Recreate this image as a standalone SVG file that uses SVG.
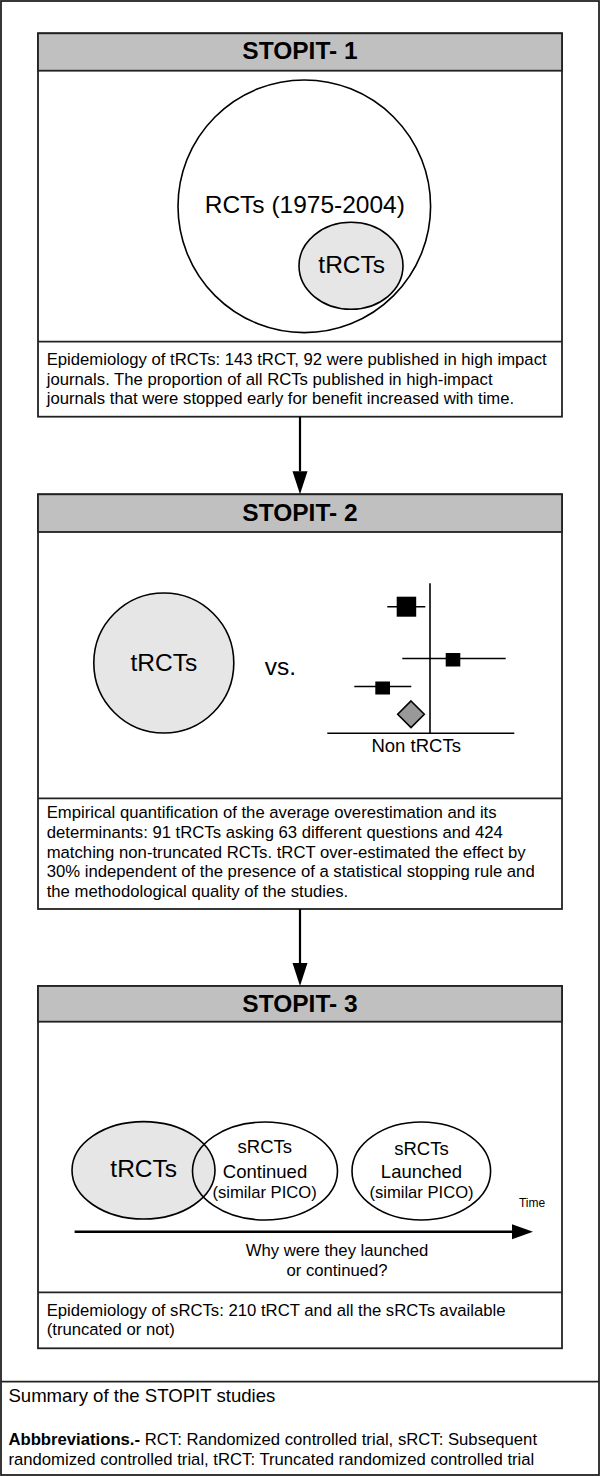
<svg xmlns="http://www.w3.org/2000/svg" width="600" height="1476" viewBox="0 0 600 1476">
<style>
text{font-family:"Liberation Sans",Arial,Helvetica,sans-serif;fill:#000}
.box{fill:#fff;stroke:#222;stroke-width:1.8}
.hdr{fill:#c0c0c0;stroke:#222;stroke-width:1.8}
.div{stroke:#222;stroke-width:1.8}
.title{font-size:24.5px;font-weight:bold;text-anchor:middle}
.big{font-size:24.5px;text-anchor:middle}
.med{font-size:18.5px;text-anchor:middle}
.body{font-size:16.7px}
.ell{fill:#fff;stroke:#000;stroke-width:1.6}
.ellg{fill:#e6e6e6;stroke:#000;stroke-width:1.6}
.ln{stroke:#000;stroke-width:1.6;fill:none}
.conn{stroke:#000;stroke-width:2.2;fill:none}
</style>
<defs>
<marker id="ah" markerUnits="userSpaceOnUse" markerWidth="24" markerHeight="16" refX="0" refY="7.5" orient="auto">
<path d="M0,0 L23,7.5 L0,15 z" fill="#000"/>
</marker>
<marker id="ah2" markerUnits="userSpaceOnUse" markerWidth="22" markerHeight="16" refX="0" refY="7.5" orient="auto">
<path d="M0,0 L21,7.5 L0,15 z" fill="#000"/>
</marker>
</defs>
<rect x="0" y="0" width="600" height="1476" fill="#fff"/>
<rect x="1" y="1" width="598" height="1474" fill="none" stroke="#222" stroke-width="1.8"/>
<line x1="1" y1="1381.7" x2="599" y2="1381.7" class="div"/>

<g id="stopit1">
<rect x="38" y="33.3" width="524" height="383.4" class="box"/>
<rect x="38" y="33.3" width="524" height="37.4" class="hdr"/>
<text x="300" y="59.3" class="title">STOPIT- 1</text>
<line x1="38" y1="341.7" x2="562" y2="341.7" class="div"/>
<g id="rcts-circle">
<circle cx="304.3" cy="206.3" r="126.3" class="ell"/>
<text x="304.8" y="213.3" class="big">RCTs (1975-2004)</text>
</g>
<g id="trcts-circle1">
<ellipse cx="351" cy="265.8" rx="52" ry="43.5" class="ellg"/>
<text x="351.7" y="273.3" class="big">tRCTs</text>
</g>
<text class="body"><tspan x="46.7" y="365">Epidemiology of tRCTs: 143 tRCT, 92 were published in high impact</tspan><tspan x="46.7" y="384.5">journals. The proportion of all RCTs published in high-impact</tspan><tspan x="46.7" y="404">journals that were stopped early for benefit increased with time.</tspan></text>
</g>

<g id="stopit2">
<rect x="38" y="494.3" width="524" height="414.7" class="box"/>
<rect x="38" y="494.3" width="524" height="37.7" class="hdr"/>
<text x="300" y="520.7" class="title">STOPIT- 2</text>
<line x1="38" y1="798.3" x2="562" y2="798.3" class="div"/>
<g id="trcts-circle2">
<circle cx="163.8" cy="663" r="70" class="ellg"/>
<text x="163.8" y="670.7" class="big">tRCTs</text>
</g>
<text x="280.5" y="675" class="big">vs.</text>
<g id="forest-plot">
<line x1="430" y1="583.3" x2="430" y2="733.3" class="ln"/>
<line x1="327.3" y1="733.3" x2="514.3" y2="733.3" class="ln"/>
<line x1="387.3" y1="606.7" x2="425.3" y2="606.7" class="ln"/>
<rect x="396.7" y="596.7" width="19.5" height="20" fill="#000"/>
<line x1="402.3" y1="658.5" x2="505.7" y2="658.5" class="ln"/>
<rect x="445.7" y="653" width="14.6" height="13.5" fill="#000"/>
<line x1="354.3" y1="686.5" x2="411.3" y2="686.5" class="ln"/>
<rect x="375.3" y="681.5" width="14.7" height="13" fill="#000"/>
<path d="M411,701 L424.3,714.3 L411,727.6 L397.7,714.3 Z" fill="#999" stroke="#000" stroke-width="1.6"/>
<text x="416.2" y="752.3" class="med">Non tRCTs</text>
</g>
<text class="body"><tspan x="46.7" y="818.3">Empirical quantification of the average overestimation and its</tspan><tspan x="46.7" y="838">determinants: 91 tRCTs asking 63 different questions and 424</tspan><tspan x="46.7" y="857.6">matching non-truncated RCTs. tRCT over-estimated the effect by</tspan><tspan x="46.7" y="877.2">30% independent of the presence of a statistical stopping rule and</tspan><tspan x="46.7" y="896.8">the methodological quality of the studies.</tspan></text>
</g>

<g id="stopit3">
<rect x="38" y="986" width="524" height="362.3" class="box"/>
<rect x="38" y="986" width="524" height="35.7" class="hdr"/>
<text x="300" y="1011.7" class="title">STOPIT- 3</text>
<line x1="38" y1="1292.3" x2="562" y2="1292.3" class="div"/>
<g id="trcts-ellipse3">
<ellipse cx="143.5" cy="1170.3" rx="71.5" ry="48.7" class="ellg"/>
<text x="143.7" y="1177.3" class="big">tRCTs</text>
</g>
<g id="srcts-continued">
<ellipse cx="265" cy="1171" rx="72.5" ry="49" fill="none" stroke="#000" stroke-width="1.6"/>
<text x="264.8" y="1153.3" class="med">sRCTs</text>
<text x="265" y="1178.3" class="med">Continued</text>
<text x="264.6" y="1198.3" font-size="16.6" text-anchor="middle">(similar PICO)</text>
</g>
<g id="srcts-launched">
<ellipse cx="421.3" cy="1171" rx="69.3" ry="49" class="ell"/>
<text x="421.5" y="1155" class="med">sRCTs</text>
<text x="421.5" y="1178.3" class="med">Launched</text>
<text x="421.5" y="1198.3" font-size="16.6" text-anchor="middle">(similar PICO)</text>
</g>
<text x="532" y="1206.7" font-size="12" text-anchor="middle">Time</text>
<text class="body" text-anchor="middle"><tspan x="337" y="1255.7">Why were they launched</tspan><tspan x="337" y="1275.7">or continued?</tspan></text>
<text class="body"><tspan x="46.7" y="1315.7">Epidemiology of sRCTs: 210 tRCT and all the sRCTs available</tspan><tspan x="46.7" y="1335">(truncated or not)</tspan></text>
</g>

<g id="connectors">
<line x1="300" y1="416.7" x2="300" y2="471.3" class="conn" marker-end="url(#ah)"/>
<line x1="300" y1="909" x2="300" y2="963" class="conn" marker-end="url(#ah)"/>
<line x1="74.6" y1="1231.7" x2="512" y2="1231.7" stroke="#000" stroke-width="2.6" marker-end="url(#ah2)"/>
</g>

<g id="caption">
<text x="8.4" y="1401.7" font-size="18.6">Summary of the STOPIT studies</text>
<text class="body"><tspan x="8.4" y="1445"><tspan font-weight="bold">Abbbreviations.-</tspan> RCT: Randomized controlled trial, sRCT: Subsequent</tspan><tspan x="8.4" y="1465">randomized controlled trial, tRCT: Truncated randomized controlled trial</tspan></text>
</g>
</svg>
